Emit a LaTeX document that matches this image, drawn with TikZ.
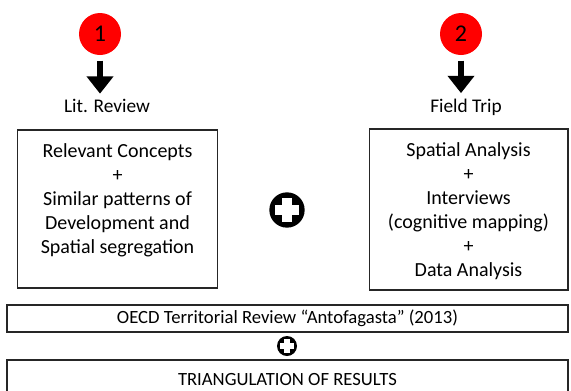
\documentclass[tikz,border=0pt]{standalone}
\usepackage{fontspec}
\setmainfont{Carlito}
\usetikzlibrary{arrows.meta, positioning}

\begin{document}
\begin{tikzpicture}[x=0.75pt, y=-0.75pt,
        stepdot/.style={circle, fill=red, minimum size=31.5pt, inner sep=0pt,
            font=\fontsize{18}{18}\selectfont},
        steplabel/.style={inner sep=1pt, font=\fontsize{14.5}{16}\selectfont},
        downarrow/.style={line width=5pt, -{Triangle[width=19.5pt, length=13pt]},
            shorten <=4pt, shorten >=3pt},
        panel/.style={draw=black!85, line width=1pt, inner sep=0pt,
            font=\fontsize{15}{18}\selectfont},
        strip/.style={draw=black!85, line width=1pt, inner sep=0pt,
            minimum width=420.75pt, font=\fontsize{14}{16}\selectfont},
        plusdot/.style={circle, fill=black, minimum size=#1, inner sep=0pt,
            path picture={
                \fill[white] ([xshift=-0.13*#1, yshift=-0.34*#1]path picture bounding box.center)
                    rectangle ([xshift=0.13*#1, yshift=0.34*#1]path picture bounding box.center);
                \fill[white] ([xshift=-0.34*#1, yshift=-0.13*#1]path picture bounding box.center)
                    rectangle ([xshift=0.34*#1, yshift=0.13*#1]path picture bounding box.center);
            }}]
        \useasboundingbox (0,0) rectangle (571,390);
        \clip (0,0) rectangle (571,390);

        % the two sources
        \node[stepdot] (one) at (100,34) {1};
        \node[stepdot] (two) at (461,34) {2};

        \node[steplabel] (lit) at (107,106) {Lit. Review};
        \node[steplabel] (field) at (466,107) {Field Trip};

        \draw[downarrow] (one) -- (one |- lit.north);
        \draw[downarrow] (two) -- (two |- field.north);

        % what each source gives
        \node[panel] (concepts) at (117.5,209) {\parbox[c][118.5pt][t]{150pt}{\centering
            \vspace*{10pt}Relevant Concepts\\+\\Similar patterns of\\Development and\\Spatial segregation}};
        \node[panel] (fieldwork) at (468.5,209.5) {\parbox[c][120.75pt][t]{149pt}{\centering
            \vspace*{10.5pt}Spatial Analysis\\+\\Interviews\\(cognitive mapping)\\+\\Data Analysis}};

        \node[plusdot=26.5pt] (plus_a) at (287,210) {};

        % bottom strips
        \node[strip, minimum height=20.25pt] (oecd) at (287.5,318.5)
            {OECD Territorial Review “Antofagasta” (2013)};
        \node[plusdot=15pt] (plus_b) at (287,346) {};
        \node[strip, minimum height=30pt] (result) at (287.5,380)
            {TRIANGULATION OF RESULTS};
\end{tikzpicture}
\end{document}
